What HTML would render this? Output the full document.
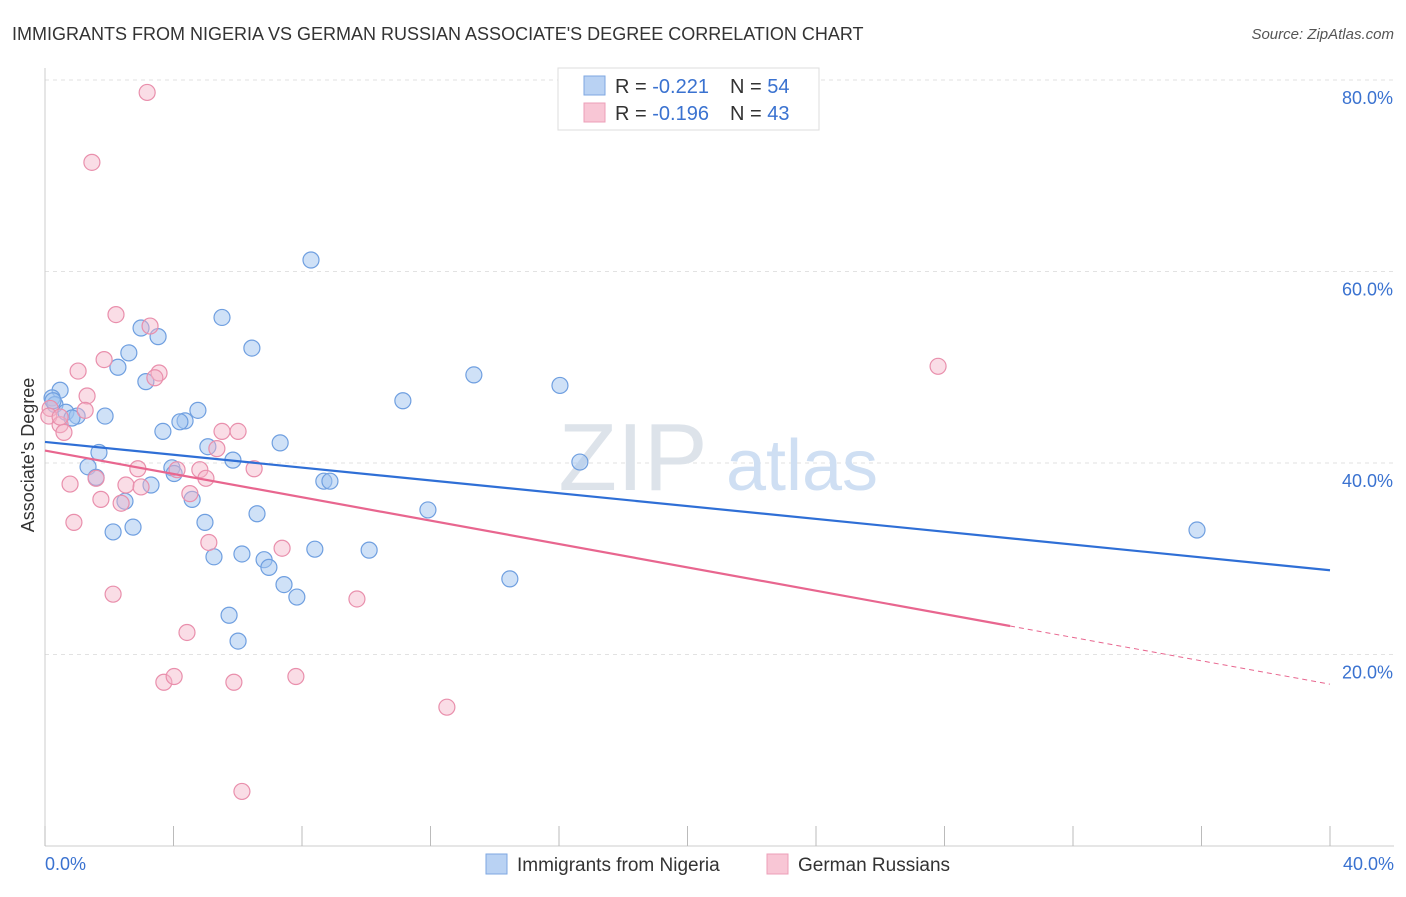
<!DOCTYPE html>
<html><head><meta charset="utf-8"><style>
body{margin:0;background:#fff;font-family:"Liberation Sans",sans-serif}
svg text{font-family:"Liberation Sans",sans-serif}
</style></head><body>
<svg id="chart" width="1406" height="892">
<text x="12" y="40" font-size="18" fill="#333">IMMIGRANTS FROM NIGERIA VS GERMAN RUSSIAN ASSOCIATE'S DEGREE CORRELATION CHART</text>
<text x="1394" y="39" font-size="15" fill="#555" font-style="italic" text-anchor="end">Source: ZipAtlas.com</text>
<g id="grid"></g>
<text x="633" y="490" font-size="96" fill="#dde3ea" font-family="Liberation Serif" text-anchor="middle">ZIP</text>
<text x="802" y="490" font-size="72" fill="#cfdff3" text-anchor="middle">atlas</text>
<g id="points"></g>
<g id="trends"></g>
<text x="34" y="455" font-size="18" fill="#333" text-anchor="middle" transform="rotate(-90 34 455)">Associate's Degree</text>
<text x="45" y="870" font-size="18" fill="#3a72d0">0.0%</text>
<text x="1394" y="870" font-size="18" fill="#3a72d0" text-anchor="end">40.0%</text>
<g>
<rect x="558" y="68" width="261" height="62" fill="#fff" stroke="#ddd"/>
<rect x="584" y="76" width="21" height="19" fill="#b9d2f3" stroke="#7ea7e2"/>
<rect x="584" y="103" width="21" height="19" fill="#f8c6d5" stroke="#ec9fb8"/>
<text x="615" y="93" font-size="20" fill="#333">R = <tspan fill="#3a72d0">-0.221</tspan><tspan x="730">N = </tspan><tspan fill="#3a72d0">54</tspan></text>
<text x="615" y="120" font-size="20" fill="#333">R = <tspan fill="#3a72d0">-0.196</tspan><tspan x="730">N = </tspan><tspan fill="#3a72d0">43</tspan></text>
</g>
<g>
<rect x="486" y="854" width="21" height="20" fill="#b9d2f3" stroke="#7ea7e2"/>
<text x="517" y="871" font-size="19" fill="#333">Immigrants from Nigeria</text></g>
<g>
<rect x="767" y="854" width="21" height="20" fill="#f8c6d5" stroke="#ec9fb8"/>
<text x="798" y="871" font-size="19" fill="#333">German Russians</text></g>
</svg>
<script>
const yTicks=[20,40,60,80];
const yTickLabels=["20.0%","40.0%","60.0%","80.0%"];
const xTicks=[0,4,8,12,16,20,24,28,32,36,40];
const blueX=[8.28,5.51,2.99,3.52,6.44,2.61,2.27,3.14,13.35,16.03,0.47,0.22,0.31,11.14,4.76,0.65,1.0,1.87,0.84,4.36,4.2,3.67,7.32,5.07,1.68,5.85,16.65,1.34,3.95,4.02,1.59,8.68,8.87,3.3,4.58,2.49,11.92,6.6,4.98,2.74,2.12,35.86,6.13,8.4,10.09,5.26,6.82,6.97,7.44,14.47,7.84,5.73,6.01,0.25];
const blueY=[61.2,55.2,54.1,53.2,52.0,51.5,50.0,48.5,49.2,48.1,47.6,46.8,46.1,46.5,45.5,45.3,44.9,44.9,44.7,44.4,44.3,43.3,42.1,41.7,41.1,40.3,40.1,39.6,39.5,38.9,38.5,38.1,38.1,37.7,36.2,36.0,35.1,34.7,33.8,33.3,32.8,33.0,30.5,31.0,30.9,30.2,29.9,29.1,27.3,27.9,26.0,24.1,21.4,46.5];
const pinkX=[3.18,1.46,2.21,3.27,1.84,1.03,3.55,3.42,1.31,27.8,0.16,1.25,0.12,0.47,0.59,5.51,6.01,5.35,2.89,4.11,4.82,6.51,1.59,5.01,0.78,2.52,2.99,4.51,1.74,2.37,0.9,5.1,7.38,2.12,9.71,4.42,3.7,4.02,5.88,7.81,12.51,6.13,0.47];
const pinkY=[78.7,71.4,55.5,54.3,50.8,49.6,49.4,48.9,47.0,50.1,45.7,45.5,44.9,44.0,43.2,43.3,43.3,41.5,39.4,39.3,39.3,39.4,38.4,38.4,37.8,37.7,37.5,36.8,36.2,35.8,33.8,31.7,31.1,26.3,25.8,22.3,17.1,17.7,17.1,17.7,14.5,5.7,44.8];
const blueTrend=[42.2,28.8];
const pinkTrend=[41.3,16.9];
const pinkSolidEnd=30.04;
const sx=v=>45+v*(1330-45)/40;
const sy=v=>846-v*9.575;
const NS="http://www.w3.org/2000/svg";
function mk(t,a,p){const e=document.createElementNS(NS,t);for(const k in a)e.setAttribute(k,a[k]);p.appendChild(e);return e;}
const grid=document.getElementById('grid');
yTicks.forEach((t,i)=>{
 const l=mk('line',{x1:45,x2:1394,y1:sy(t),y2:sy(t),stroke:'#e2e2e2','stroke-dasharray':'4,4'},grid);
 
 
 const tx=mk('text',{x:1393,y:sy(t)+24,'font-size':18,fill:'#3a72d0','text-anchor':'end'},grid);
 tx.textContent=yTickLabels[i];
 
 
});
const ax=mk('line',{x1:45,x2:45,y1:68,y2:846,stroke:'#ccc'},grid);


const bx=mk('line',{x1:45,x2:1394,y1:846,y2:846,stroke:'#ccc'},grid);


xTicks.forEach(t=>{
 const l=mk('line',{x1:sx(t),x2:sx(t),y1:826,y2:846,stroke:'#bbb'},grid);
 
 
});
const pts=document.getElementById('points');
blueX.forEach((x,i)=>{
 const c=mk('circle',{cx:sx(x),cy:sy(blueY[i]),r:8,fill:'rgba(160,195,240,0.5)',stroke:'#6f9fe0','stroke-width':1.2},pts);
 
 
});
pinkX.forEach((x,i)=>{
 const c=mk('circle',{cx:sx(x),cy:sy(pinkY[i]),r:8,fill:'rgba(245,180,200,0.45)',stroke:'#e98fac','stroke-width':1.2},pts);
 
 
});
const tr=document.getElementById('trends');
const b=mk('line',{x1:sx(0),y1:sy(blueTrend[0]),x2:sx(40),y2:sy(blueTrend[1]),stroke:'#2f6fd6','stroke-width':2.2},tr);


const pAt=x=>pinkTrend[0]+(pinkTrend[1]-pinkTrend[0])*x/40;
const p=mk('line',{x1:sx(0),y1:sy(pAt(0)),x2:sx(pinkSolidEnd),y2:sy(pAt(pinkSolidEnd)),stroke:'#e8668f','stroke-width':2.2},tr);


const pd=mk('line',{x1:sx(pinkSolidEnd),y1:sy(pAt(pinkSolidEnd)),x2:sx(40),y2:sy(pAt(40)),stroke:'#e8668f','stroke-width':1,'stroke-dasharray':'5,4'},tr);


</script>
</body></html>
